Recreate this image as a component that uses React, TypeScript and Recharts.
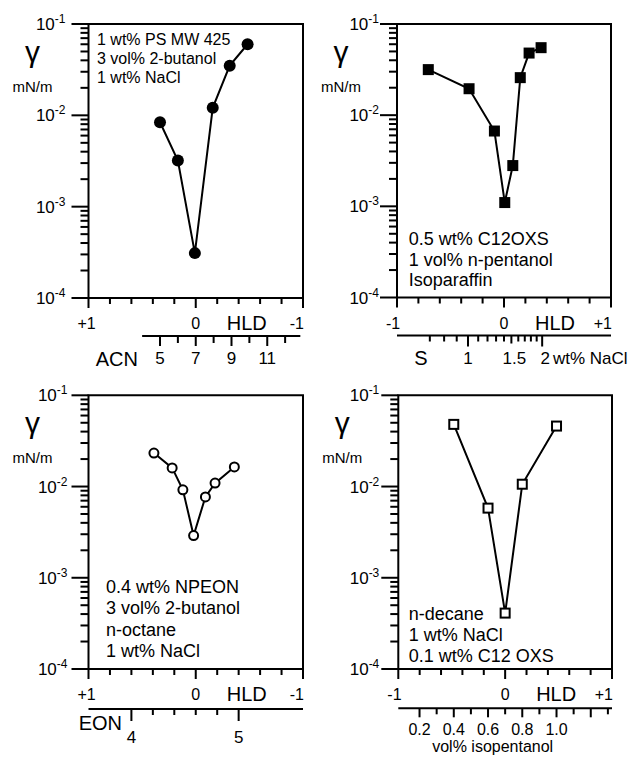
import React from 'react'
import { Line, LineChart, ReferenceArea, XAxis, YAxis } from 'recharts'

const FONT = '"Liberation Sans", Arial, Helvetica, sans-serif'
const INK = '#000'

// top left: 1 wt% PS MW 425, scan in alkane carbon number
const acnValues = [5, 6, 6.95, 7.95, 8.9, 9.9]
const acnGamma = [8.4e-3, 3.2e-3, 3.1e-4, 1.21e-2, 3.5e-2, 6.0e-2]
const acnTicks = [4, 5, 6, 7, 8, 9, 10, 11, 12, 12.85]
const acnLabels = [5, 7, 9, 11]

// top right: C12OXS, scan in salinity (log)
const naclValues = [0.69, 1.01, 1.28, 1.41, 1.52, 1.63, 1.77, 1.98]
const naclGamma = [3.16e-2, 1.95e-2, 6.7e-3, 1.1e-3, 2.8e-3, 2.58e-2, 4.8e-2, 5.5e-2]
const naclTicks = [0.7, 0.8, 0.9, 1.0, 1.1, 1.2, 1.3, 1.4, 1.5, 1.6, 1.7, 1.8, 1.9, 2.0]
const naclLabels = [1, 1.5, 2]

// bottom left: NPEON, scan in ethylene oxide number
const eonValues = [4.21, 4.38, 4.48, 4.58, 4.69, 4.78, 4.96]
const eonGamma = [2.33e-2, 1.6e-2, 9.2e-3, 2.9e-3, 7.7e-3, 1.09e-2, 1.64e-2]
const eonTicks = [4, 4.2, 4.4, 4.6, 4.8, 5]
const eonLabels = [4, 5]

// bottom right: n-decane, scan in isopentanol
const pentanolValues = [0.4, 0.6, 0.7, 0.8, 1.0]
const pentanolGamma = [4.8e-2, 5.8e-3, 4.1e-4, 1.06e-2, 4.6e-2]
const pentanolTicks = [0.2, 0.3, 0.4, 0.5, 0.6, 0.7, 0.8, 0.9, 1.0, 1.1, 1.2, 1.3]
const pentanolLabels = [0.2, 0.4, 0.6, 0.8, 1.0]

const hldTicks = [-1, -0.8, -0.6, -0.4, -0.2, 0, 0.2, 0.4, 0.6, 0.8, 1]
const gammaDecades = [1e-4, 1e-3, 1e-2, 1e-1]
const minorSteps = [2, 3, 4, 5, 6, 7, 8, 9]

const gammaTicks = [
  ...gammaDecades.slice(0, -1).flatMap((d) => [d, ...minorSteps.map((m) => m * d)]),
  gammaDecades[gammaDecades.length - 1],
]

const W = 316
const H = 379

type Marker = 'disc' | 'circle' | 'block' | 'square'

type Panel = {
  left: number
  top: number
  boxL: number
  boxR: number
  boxT: number
  boxB: number
  hldH: number
  labelGap: number
  reversed: boolean
  domain: [number, number]
  scale: 'linear' | 'log'
  xs: number[]
  ys: number[]
  ticks: number[]
  marker: Marker
  fullLine: boolean
  secTick: (p: any, panel: Panel) => React.ReactElement
  notes: string[]
  noteX: number
  noteY: number
  noteStep: number
  noteSize: number
  extra: (panel: Panel) => React.ReactElement
}

const near = (a: number, b: number) => Math.abs(a - b) < 1e-6

// tick marks as thin filled rects
const vMark = (x: number, y: number, len: number) => <rect x={x - 1} y={y} width={2} height={len} fill={INK} />
const hMark = (x: number, y: number, len: number) => <rect x={x - len} y={y - 1} width={len} height={2} fill={INK} />

function GammaTick(props: any) {
  const { x, y, payload, gap } = props
  const e = Math.log10(payload.value)
  const major = near(e, Math.round(e))
  return (
    <g>
      {hMark(x, y, major ? 17 : 8)}
      {major && (
        <text x={x - gap} y={y + 6} textAnchor="end" fontSize={17} fontFamily={FONT}>
          10<tspan dy={-7} fontSize={12}>{Math.round(e)}</tspan>
        </text>
      )}
    </g>
  )
}

function HldTick(props: any) {
  const { x, y, payload, reversed } = props
  const v = payload.value
  const end = near(Math.abs(v), 1)
  const zero = near(v, 0)
  const isLeft = reversed ? near(v, 1) : near(v, -1)
  return (
    <g>
      {vMark(x, y, end || zero ? 10 : 6)}
      {zero && (
        <>
          <text x={x} y={y + 31} textAnchor="middle" fontSize={16} fontFamily={FONT}>0</text>
          <text x={x + 51} y={y + 32} textAnchor="middle" fontSize={20} fontFamily={FONT}>HLD</text>
        </>
      )}
      {end && (
        <text
          x={isLeft ? x - 11 : x + 1}
          y={y + 31}
          textAnchor={isLeft ? 'start' : 'end'}
          fontSize={16}
          fontFamily={FONT}
        >
          {v > 0 ? '+1' : '-1'}
        </text>
      )}
    </g>
  )
}

function acnTick(p: any, panel: Panel) {
  const { x, y, payload } = p
  const v = payload.value
  const perUnit = (panel.boxR - panel.boxL) / (panel.domain[1] - panel.domain[0])
  const first = near(v, acnTicks[0])
  const last = near(v, acnTicks[acnTicks.length - 1])
  const labelled = acnLabels.some((l) => near(l, v))
  const span = (acnTicks[acnTicks.length - 1] - v) * perUnit
  return (
    <g>
      {first && <rect x={x} y={y - 1} width={span} height={2} fill={INK} />}
      {!first && !last && vMark(x, y, labelled ? 10 : 7)}
      {labelled && (
        <text x={x} y={y + 28} textAnchor="middle" fontSize={17} fontFamily={FONT}>{v}</text>
      )}
    </g>
  )
}

function naclTick(p: any) {
  const { x, y, payload } = p
  const v = payload.value
  const long = near(v, 1) || near(v, 2)
  const mid = near(v, 1.5)
  const labelled = naclLabels.some((l) => near(l, v))
  return (
    <g>
      {vMark(x, y, long ? 11 : mid ? 8 : 6)}
      {labelled && (
        <text x={x + (near(v, 1) ? 0 : 3)} y={y + 28} textAnchor="middle" fontSize={17} fontFamily={FONT}>{v}</text>
      )}
    </g>
  )
}

function eonTick(p: any) {
  const { x, y, payload } = p
  const v = payload.value
  const labelled = eonLabels.some((l) => near(l, v))
  return (
    <g>
      {vMark(x, y, labelled ? 12 : 6)}
      {labelled && (
        <text x={x} y={y + 34} textAnchor="middle" fontSize={17} fontFamily={FONT}>{v}</text>
      )}
    </g>
  )
}

function pentanolTick(p: any) {
  const { x, y, payload } = p
  const v = payload.value
  const even = near(Math.round(v * 5) / 5, v)
  const labelled = pentanolLabels.some((l) => near(l, v))
  return (
    <g>
      {vMark(x, y, even ? 9 : 6)}
      {labelled && (
        <text x={x} y={y + 27} textAnchor="middle" fontSize={16} fontFamily={FONT}>{v.toFixed(1)}</text>
      )}
    </g>
  )
}

function markerFor(kind: Marker) {
  return (props: any) => {
    const { cx, cy, index } = props
    if (cx == null || cy == null) return <g key={index} />
    if (kind === 'disc') return <circle key={index} cx={cx} cy={cy} r={6} fill="#000" />
    if (kind === 'circle')
      return <circle key={index} cx={cx} cy={cy} r={4.5} fill="#fff" stroke="#000" strokeWidth={2} />
    if (kind === 'block') return <rect key={index} x={cx - 5.5} y={cy - 5.5} width={11} height={11} fill="#000" />
    return <rect key={index} x={cx - 4.5} y={cy - 4.5} width={9} height={9} fill="#fff" stroke="#000" strokeWidth={2} />
  }
}

// free text of a panel, kept in its own layer above the chart
function PanelText({ panel }: { panel: Panel }) {
  const cx = panel.boxL - 56
  return (
    <svg
      width={W}
      height={H}
      style={{ position: 'absolute', left: 0, top: 0, pointerEvents: 'none', overflow: 'hidden' }}
    >
      <g fontFamily={FONT}>
        <text x={cx} y={panel.boxT + 38} textAnchor="middle" fontSize={30}>γ</text>
        <text x={cx} y={panel.boxT + 68} textAnchor="middle" fontSize={15}>mN/m</text>
        {panel.notes.map((n, i) => (
          <text key={n} x={panel.noteX} y={panel.noteY + i * panel.noteStep} fontSize={panel.noteSize}>
            {n}
          </text>
        ))}
        {panel.extra(panel)}
      </g>
    </svg>
  )
}

const panels: Panel[] = [
  {
    left: 0,
    top: 0,
    boxL: 88.5,
    boxR: 303,
    boxT: 24,
    boxB: 298,
    hldH: 38,
    labelGap: 23,
    reversed: true,
    domain: [1, 13],
    scale: 'linear',
    xs: acnValues,
    ys: acnGamma,
    ticks: acnTicks,
    marker: 'disc',
    fullLine: false,
    secTick: acnTick,
    notes: ['1 wt% PS MW 425', '3 vol% 2-butanol', '1 wt% NaCl'],
    noteX: 97,
    noteY: 45,
    noteStep: 19.2,
    noteSize: 16,
    extra: () => <text x={138} y={366} textAnchor="end" fontSize={20}>ACN</text>,
  },
  {
    left: 316,
    top: 0,
    boxL: 81,
    boxR: 295,
    boxT: 24,
    boxB: 297.5,
    hldH: 38,
    labelGap: 18,
    reversed: false,
    domain: [1.4 / Math.E, 1.4 * Math.E],
    scale: 'log',
    xs: naclValues,
    ys: naclGamma,
    ticks: naclTicks,
    marker: 'block',
    fullLine: true,
    secTick: naclTick,
    notes: ['0.5 wt% C12OXS', '1 vol% n-pentanol', 'Isoparaffin'],
    noteX: 92.7,
    noteY: 245,
    noteStep: 20.6,
    noteSize: 18,
    extra: () => (
      <>
        <text x={105} y={365} textAnchor="middle" fontSize={20}>S</text>
        <text x={237} y={364} fontSize={17}>wt% NaCl</text>
      </>
    ),
  },
  {
    left: 0,
    top: 379,
    boxL: 88.5,
    boxR: 303,
    boxT: 16.3,
    boxB: 290,
    hldH: 40,
    labelGap: 21,
    reversed: true,
    domain: [3.6, 5.6],
    scale: 'linear',
    xs: eonValues,
    ys: eonGamma,
    ticks: eonTicks,
    marker: 'circle',
    fullLine: true,
    secTick: eonTick,
    notes: ['0.4 wt% NPEON', '3 vol% 2-butanol', 'n-octane', '1 wt% NaCl'],
    noteX: 106,
    noteY: 214.3,
    noteStep: 21.1,
    noteSize: 18,
    extra: () => <text x={122} y={351} textAnchor="end" fontSize={20}>EON</text>,
  },
  {
    left: 316,
    top: 379,
    boxL: 82.3,
    boxR: 296,
    boxT: 16.3,
    boxB: 290,
    hldH: 39.3,
    labelGap: 19,
    reversed: false,
    domain: [0.076, 1.324],
    scale: 'linear',
    xs: pentanolValues,
    ys: pentanolGamma,
    ticks: pentanolTicks,
    marker: 'square',
    fullLine: true,
    secTick: pentanolTick,
    notes: ['n-decane', '1 wt% NaCl', '0.1 wt% C12 OXS'],
    noteX: 92.7,
    noteY: 241,
    noteStep: 20.8,
    noteSize: 18,
    extra: () => <text x={176.7} y={373} textAnchor="middle" fontSize={16}>vol% isopentanol</text>,
  },
]

function PanelChart({ panel }: { panel: Panel }) {
  const data = panel.xs.map((x, i) => ({ x, g: panel.ys[i] }))
  const secH = H - panel.boxB - panel.hldH
  return (
    <div style={{ position: 'absolute', left: panel.left, top: panel.top, width: W, height: H }}>
      <LineChart
        width={W}
        height={H}
        data={data}
        margin={{ top: panel.boxT, right: W - panel.boxR, bottom: 0, left: 0 }}
      >
        <XAxis
          xAxisId="a"
          dataKey="x"
          type="number"
          domain={[-1, 1]}
          allowDataOverflow
          reversed={panel.reversed}
          ticks={hldTicks}
          interval={0}
          tickSize={0}
          tickMargin={0}
          axisLine={false}
          height={panel.hldH}
          tick={(p: any) => <HldTick {...p} reversed={panel.reversed} />}
        />
        <XAxis
          xAxisId="b"
          dataKey="x"
          type="number"
          scale={panel.scale}
          domain={panel.domain}
          allowDataOverflow
          ticks={panel.ticks}
          interval={0}
          tickSize={0}
          tickMargin={0}
          axisLine={panel.fullLine ? { stroke: INK, strokeWidth: 2 } : false}
          height={secH}
          tick={(p: any) => panel.secTick(p, panel)}
        />
        <YAxis
          type="number"
          scale="log"
          domain={[1e-4, 1e-1]}
          allowDataOverflow
          ticks={gammaTicks}
          interval={0}
          tickSize={0}
          tickMargin={0}
          axisLine={false}
          width={panel.boxL}
          tick={(p: any) => <GammaTick {...p} gap={panel.labelGap} />}
        />
        <ReferenceArea
          xAxisId="b"
          x1={panel.domain[0]}
          x2={panel.domain[1]}
          y1={1e-4}
          y2={1e-1}
          fill="none"
          stroke="#000"
          strokeWidth={2}
          ifOverflow="visible"
        />
        <Line
          xAxisId="b"
          dataKey="g"
          type="linear"
          stroke="#000"
          strokeWidth={2}
          dot={markerFor(panel.marker)}
          activeDot={false}
          isAnimationActive={false}
        />
      </LineChart>
      <PanelText panel={panel} />
    </div>
  )
}

export default function App() {
  return (
    <div style={{ position: 'absolute', left: 0, top: 0, width: 632, height: 758 }}>
      {panels.map((p) => (
        <PanelChart key={`${p.left}-${p.top}`} panel={p} />
      ))}
    </div>
  )
}
